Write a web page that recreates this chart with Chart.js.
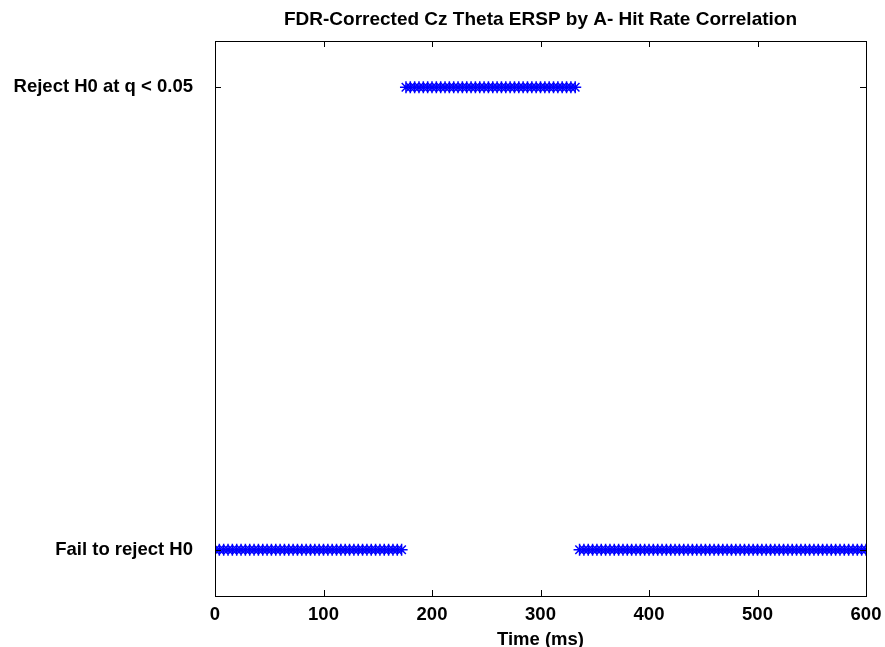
<!DOCTYPE html>
<html>
<head>
<meta charset="utf-8">
<script src="https://cdn.jsdelivr.net/npm/chart.js@4.4.0/dist/chart.umd.min.js"></script>
<style>
html,body{margin:0;padding:0;background:#fff;}
#wrap{width:885px;height:647px;}
</style>
</head>
<body>
<div id="wrap"><canvas id="c" width="885" height="647"></canvas></div>
<script>
const chartTitle = "FDR-Corrected Cz Theta ERSP by A- Hit Rate Correlation";
const xTitle = "Time (ms)";
const yTickValues = [0, 1];
const yTickLabels = ["Fail to reject H0", "Reject H0 at q < 0.05"];
const xTicks = [0, 100, 200, 300, 400, 500, 600];
const timesMs = [0,4,8,12,16,20,24,28,32,36,40,44,48,52,56,60,64,68,72,76,80,84,88,92,96,100,104,108,112,116,120,124,128,132,136,140,144,148,152,156,160,164,168,172,176,180,184,188,192,196,200,204,208,212,216,220,224,228,232,236,240,244,248,252,256,260,264,268,272,276,280,284,288,292,296,300,304,308,312,316,320,324,328,332,336,340,344,348,352,356,360,364,368,372,376,380,384,388,392,396,400,404,408,412,416,420,424,428,432,436,440,444,448,452,456,460,464,468,472,476,480,484,488,492,496,500,504,508,512,516,520,524,528,532,536,540,544,548,552,556,560,564,568,572,576,580,584,588,592,596,600];
const rejectH0 = [0,0,0,0,0,0,0,0,0,0,0,0,0,0,0,0,0,0,0,0,0,0,0,0,0,0,0,0,0,0,0,0,0,0,0,0,0,0,0,0,0,0,0,0,1,1,1,1,1,1,1,1,1,1,1,1,1,1,1,1,1,1,1,1,1,1,1,1,1,1,1,1,1,1,1,1,1,1,1,1,1,1,1,1,0,0,0,0,0,0,0,0,0,0,0,0,0,0,0,0,0,0,0,0,0,0,0,0,0,0,0,0,0,0,0,0,0,0,0,0,0,0,0,0,0,0,0,0,0,0,0,0,0,0,0,0,0,0,0,0,0,0,0,0,0,0,0,0,0,0,0];

const pts = timesMs.map((t, i) => ({x: t, y: rejectH0[i]}));
const FONT = "'Liberation Sans', Arial, Helvetica, sans-serif";

const boxPlugin = {
  id: 'boxPlugin',
  afterDraw(chart) {
    const ctx = chart.ctx;
    const a = chart.chartArea;
    const xs = chart.scales.x, ys = chart.scales.y;
    ctx.save();
    ctx.strokeStyle = '#000';
    ctx.lineWidth = 1;
    ctx.strokeRect(Math.round(a.left) + 0.5, Math.round(a.top) + 0.5, Math.round(a.right - a.left), Math.round(a.bottom - a.top));
    const tl = 6;
    ctx.beginPath();
    xTicks.forEach(v => {
      const px = Math.round(xs.getPixelForValue(v)) + 0.5;
      ctx.moveTo(px, a.bottom); ctx.lineTo(px, a.bottom - tl);
      ctx.moveTo(px, a.top); ctx.lineTo(px, a.top + tl);
    });
    yTickValues.forEach(v => {
      const py = Math.round(ys.getPixelForValue(v)) + 0.5;
      ctx.moveTo(a.left, py); ctx.lineTo(a.left + tl, py);
      ctx.moveTo(a.right, py); ctx.lineTo(a.right - tl, py);
    });
    ctx.stroke();
    ctx.fillStyle = '#000';
    ctx.font = "bold 19px " + FONT;
    ctx.textAlign = 'center';
    ctx.textBaseline = 'middle';
    ctx.fillText(chartTitle, (a.left + a.right) / 2, 20);
    ctx.restore();
  }
};

new Chart(document.getElementById('c'), {
  type: 'scatter',
  data: {
    datasets: [{
      data: pts,
      pointStyle: 'star',
      pointRadius: 6,
      pointHoverRadius: 6,
      borderColor: '#0000ff',
      backgroundColor: '#0000ff',
      pointBorderWidth: 1.5,
      showLine: false
    }]
  },
  options: {
    responsive: false,
    animation: false,
    devicePixelRatio: 1,
    layout: {padding: {left: 0, right: 19, top: 41, bottom: 0}},
    plugins: {legend: {display: false}, tooltip: {enabled: false}, title: {display: false}},
    scales: {
      x: {
        type: 'linear', min: 0, max: 600,
        afterBuildTicks(s) { s.ticks = xTicks.map(v => ({value: v})); },
        afterFit(s) { s.height = 51; s.paddingRight = 0; s.paddingLeft = 0; },
        grid: {display: false, drawTicks: false},
        border: {display: false},
        ticks: {color: '#000', padding: 8, maxRotation: 0, font: {family: FONT, size: 18.5, weight: 'bold'}},
        title: {display: true, text: xTitle, color: '#000', padding: {top: 0, bottom: -4}, font: {family: FONT, size: 18.5, weight: 'bold'}}
      },
      y: {
        type: 'linear', min: -0.1, max: 1.1,
        afterBuildTicks(s) { s.ticks = yTickValues.map(v => ({value: v})); },
        afterFit(s) { s.width = 215; s.paddingTop = 0; s.paddingBottom = 0; },
        grid: {display: false, drawTicks: false},
        border: {display: false},
        ticks: {color: '#000', padding: 22, font: {family: FONT, size: 18.5, weight: 'bold'},
          callback(v) { const i = yTickValues.indexOf(v); return i >= 0 ? yTickLabels[i] : ''; }}
      }
    }
  },
  plugins: [boxPlugin]
});
</script>
</body>
</html>
